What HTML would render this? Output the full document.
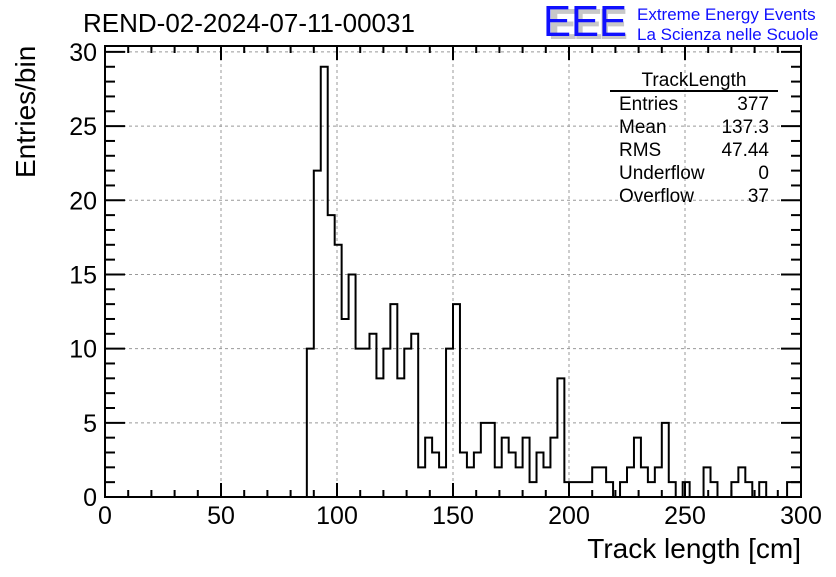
<!DOCTYPE html>
<html><head><meta charset="utf-8"><style>
body{margin:0;background:#fff}
svg text{font-family:"Liberation Sans",Arial,sans-serif}
</style></head><body>
<svg id="c" width="836" height="572" xmlns="http://www.w3.org/2000/svg">
<text x="83" y="32" font-size="26">REND-02-2024-07-11-00031</text>
<g>
<text x="548" y="39" font-size="44" fill="#c8c8c8" font-weight="bold" textLength="80">EEE</text>
<text x="543" y="36" font-size="44" fill="#1010ff" textLength="84" lengthAdjust="spacingAndGlyphs">EEE</text>
<text x="637" y="20" font-size="17" fill="#1010ff">Extreme Energy Events</text>
<text x="637" y="40" font-size="17" fill="#1010ff">La Scienza nelle Scuole</text>
</g>
<g id="grid"></g>
<g id="axes"></g>
<path id="hist" fill="none" stroke="#000" stroke-width="2"/>
<rect x="105" y="46" width="696" height="451" fill="none" stroke="#000" stroke-width="2"/>
<g font-size="19">
<text x="694" y="86" text-anchor="middle">TrackLength</text>
<line x1="610" y1="91" x2="778" y2="91" stroke="#000" stroke-width="2"/>
<text x="619" y="110">Entries</text><text x="769" y="110" text-anchor="end">377</text>
<text x="619" y="133">Mean</text><text x="769" y="133" text-anchor="end">137.3</text>
<text x="619" y="156">RMS</text><text x="769" y="156" text-anchor="end">47.44</text>
<text x="619" y="179">Underflow</text><text x="769" y="179" text-anchor="end">0</text>
<text x="619" y="202">Overflow</text><text x="769" y="202" text-anchor="end">37</text>
</g>
<text x="801" y="558" font-size="28" text-anchor="end">Track length [cm]</text>
<text transform="translate(35,178) rotate(-90)" font-size="28">Entries/bin</text>
</svg>
<script>
const binStart = 0, binWidth = 3;
const counts = [
0,0,0,0,0,0,0,0,0,0, 0,0,0,0,0,0,0,0,0,0, 0,0,0,0,0,0,0,0,0,10,
22,29,19,17,12,15,10,10,11,8, 10,13,8,10,11,2,4,3,2,10,
13,3,2,3,5,5,2,4,3,2, 4,1,3,2,4,8,1,1,1,1,
2,2,1,0,1,2,4,2,1,2, 5,1,0,1,0,0,2,1,0,0,
1,2,1,0,1,0,0,0,1,1];
const xTicks = [0,50,100,150,200,250,300];
const yTicks = [0,5,10,15,20,25,30];
const NS="http://www.w3.org/2000/svg";
const X0=105,X1=801,Y0=497,Y1=46,xMax=300,yMax=30.4;
const sx=v=>X0+(X1-X0)*v/xMax, sy=v=>Y0-(Y0-Y1)*v/yMax;
const grid=document.getElementById('grid'), axes=document.getElementById('axes');
function ln(p,x1,y1,x2,y2,st,w,d){const l=document.createElementNS(NS,'line');l.setAttribute('x1',x1);l.setAttribute('y1',y1);l.setAttribute('x2',x2);l.setAttribute('y2',y2);l.setAttribute('stroke',st);l.setAttribute('stroke-width',w);if(d)l.setAttribute('stroke-dasharray',d);p.appendChild(l);return l;}
function tx(x,y,s,a){const t=document.createElementNS(NS,'text');t.setAttribute('x',x);t.setAttribute('y',y);t.setAttribute('font-size',25);t.setAttribute('text-anchor',a);t.textContent=s;axes.appendChild(t);return t;}
xTicks.forEach(v=>{const x=sx(v);
 if(v>0&&v<xMax){const g=ln(grid,x,Y1,x,Y0,'#999',1,'3,3');
 
 }
 ln(axes,x,Y0,x,Y0-14,'#000',2);ln(axes,x,Y1,x,Y1+14,'#000',2);
 const t=tx(x,524,String(v),'middle');
 
 });
for(let v=10;v<xMax;v+=10){if(v%50){const x=sx(v);ln(axes,x,Y0,x,Y0-7,'#000',2);ln(axes,x,Y1,x,Y1+7,'#000',2);}}
yTicks.forEach(v=>{const y=sy(v);
 if(v>0){const g=ln(grid,X0,y,X1,y,'#999',1,'3,3');
 
 }
 ln(axes,X0,y,X0+20,y,'#000',2);ln(axes,X1,y,X1-20,y,'#000',2);
 const t=tx(97,y+9,String(v),'end');
 
 });
for(let v=1;v<30;v++){if(v%5){const y=sy(v);ln(axes,X0,y,X0+10,y,'#000',2);ln(axes,X1,y,X1-10,y,'#000',2);}}
let d='M'+sx(binStart)+','+sy(0);
counts.forEach((c,i)=>{const a=binStart+i*binWidth;d+=' L'+sx(a)+','+sy(c)+' L'+sx(a+binWidth)+','+sy(c);});
d+=' L'+sx(binStart+counts.length*binWidth)+','+sy(0);
document.getElementById('hist').setAttribute('d',d);
</script>
</body></html>
